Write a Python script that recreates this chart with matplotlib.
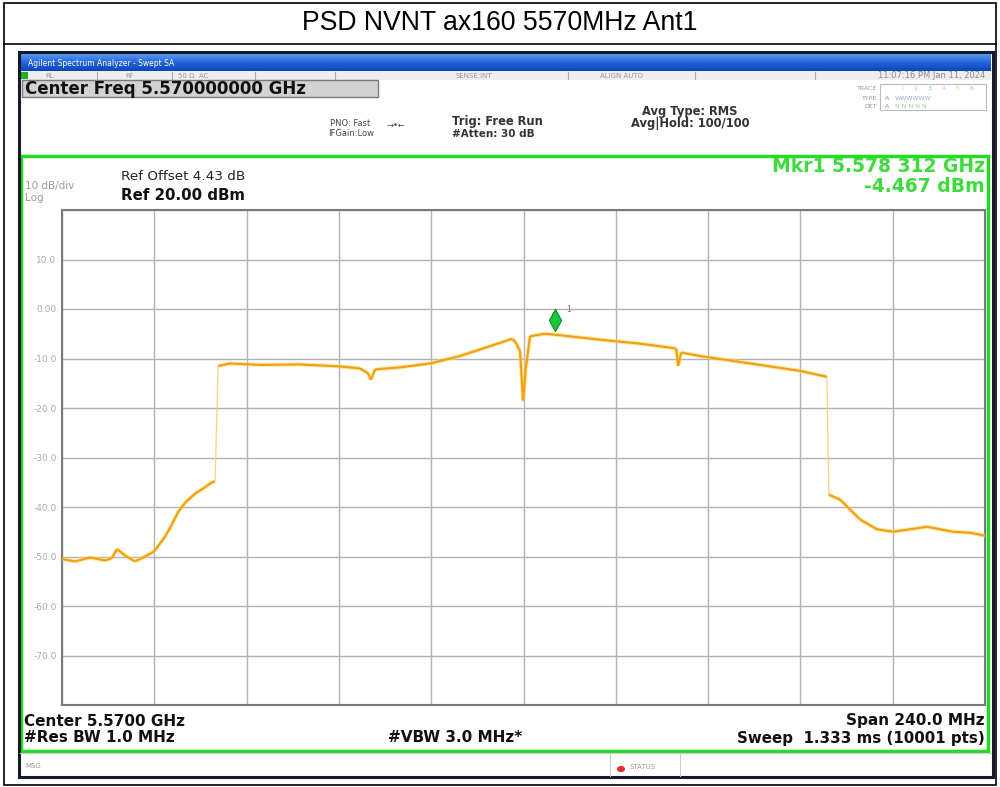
import numpy as np
import matplotlib.pyplot as plt
from matplotlib.patches import Rectangle, Circle
from matplotlib.lines import Line2D
from matplotlib.collections import LineCollection
from matplotlib.colors import LinearSegmentedColormap
from matplotlib.path import Path
import matplotlib.transforms as mtransforms

plt.rcParams['font.family'] = ['DejaVu Sans']

# trace readings, frequency in MHz and level in dBm
freq_mhz = [5450.0, 5453.4, 5457.3, 5461.2, 5463.0, 5464.3, 5466.4, 5469.0,
            5471.6, 5473.9, 5476.8, 5478.6, 5480.2, 5482.2, 5484.6, 5487.2,
            5489.0, 5489.8, 5490.6, 5493.7, 5501.5, 5511.9, 5522.3, 5527.5,
            5529.6, 5530.3, 5531.4, 5537.9, 5545.7, 5553.5, 5561.3, 5565.2,
            5567.0, 5568.0, 5569.1, 5569.9, 5570.6, 5571.7, 5575.6, 5579.5,
            5589.9, 5600.3, 5608.1, 5609.7, 5610.2, 5611.0, 5615.9, 5628.9,
            5641.9, 5648.9, 5649.4, 5652.3, 5654.9, 5657.5, 5661.9, 5666.1,
            5670.5, 5674.9, 5681.7, 5686.1, 5690.0]
level_dbm = [-50.5, -51.0, -50.2, -50.8, -50.3, -48.5, -49.8, -51.0,
             -50.0, -49.0, -46.0, -43.5, -41.0, -39.0, -37.3, -36.0,
             -35.0, -34.8, -11.5, -11.0, -11.3, -11.2, -11.6, -12.0,
             -13.0, -14.3, -12.2, -11.8, -11.0, -9.5, -7.5, -6.5,
             -6.0, -6.8, -8.5, -18.5, -12.0, -5.5, -5.0, -5.3,
             -6.2, -7.0, -7.8, -8.0, -11.5, -8.8, -9.5, -11.0,
             -12.5, -13.7, -37.5, -38.5, -40.5, -42.5, -44.5, -45.0,
             -44.5, -44.0, -45.0, -45.2, -45.8]

center_mhz = 5570.0
span_mhz = 240.0
ref_dbm = 20.0
db_div = 10.0
y_ticklabels = ['', '-70.0', '-60.0', '-50.0', '-40.0', '-30.0', '-20.0',
                '-10.0', '0.00', '10.0', '']
mkr_freq = 5578.312
mkr_level = -4.467

W, H = 1000, 787
fig = plt.figure(figsize=(10, 7.87), dpi=100)


def fx(x):
    return x / W


def fy(y):
    return 1 - y / H


def box(x0, y0, x1, y1, **kw):
    r = Rectangle((fx(x0), fy(y1)), (x1 - x0) / W, (y1 - y0) / H,
                  transform=fig.transFigure, **kw)
    fig.add_artist(r)


def line(xs, ys, **kw):
    fig.add_artist(Line2D([fx(x) for x in xs], [fy(y) for y in ys],
                          transform=fig.transFigure, **kw))


def txt(x, y, s, size, **kw):
    kw.setdefault('va', 'center')
    fig.text(fx(x), fy(y), s, fontsize=size, **kw)


# outer table frame and title row
box(4, 3, 996, 785, fill=False, ec='black', lw=1.2)
line([4, 996], [44, 44], color='black', lw=1.2)
txt(500, 23, 'PSD NVNT ax160 5570MHz Ant1', 19.2, ha='center',
    family=['Liberation Sans'])

# analyzer window title bar
bar = fig.add_axes([fx(20), fy(71), 971 / W, 17 / H])
grad = np.linspace(0, 1, 32).reshape(-1, 1)
bar.imshow(grad, aspect='auto', extent=[0, 1, 0, 1],
           cmap=LinearSegmentedColormap.from_list('tb', ['#5a98f2', '#2264dc', '#0c46b6']))
bar.axis('off')
txt(28, 63, 'Agilent Spectrum Analyzer - Swept SA', 5.5, color='white')

# status row
box(20, 71, 991, 80, fc='#eeeeee', ec='none')
box(21, 72, 28, 79, fc='#20b020', ec='none')
for sx in [97, 172, 255, 335, 568, 695, 815]:
    line([sx, sx], [72, 79], color='#a8a8a8', lw=0.8)
for sx, s in [(45, 'RL'), (125, 'RF'), (178, '50 Ω  AC'), (455, 'SENSE:INT'),
              (600, 'ALIGN AUTO')]:
    txt(sx, 76, s, 5, color='#9a9a9a')
txt(985, 76, '11:07:16 PM Jan 11, 2024', 6, color='#8a8a8a', ha='right')

# center frequency entry
box(22, 80, 378, 97, fc='#d2d2d2', ec='#7a7a7a', lw=1)
txt(25, 89, 'Center Freq 5.570000000 GHz', 12, weight='bold', color='#111111')

txt(330, 124, 'PNO: Fast', 6, color='#444444')
txt(328, 134, 'IFGain:Low', 6, color='#444444')
txt(396, 126, '→•←', 6, color='#444444', ha='center')
txt(452, 121, 'Trig: Free Run', 8.3, weight='bold', color='#333333')
txt(452, 134, '#Atten: 30 dB', 7.5, weight='bold', color='#333333')
txt(690, 112, 'Avg Type: RMS', 8.3, weight='bold', color='#333333', ha='center')
txt(690, 124, 'Avg|Hold: 100/100', 8.3, weight='bold', color='#333333', ha='center')

# trace status block
box(880, 84, 986, 110, fill=False, ec='#bbbbbb', lw=0.8)
txt(877, 89, 'TRACE', 4.5, color='#999999', ha='right')
txt(877, 98, 'TYPE', 4.5, color='#999999', ha='right')
txt(877, 107, 'DET', 4.5, color='#999999', ha='right')
for i, c in enumerate(['#e0e0e0', '#f0a0c0', '#80c0f0', '#b0e0a0', '#f0c080', '#c0a0f0']):
    txt(902 + i * 14, 89, str(i + 1), 4.5, color=c, ha='center')
txt(885, 98, 'A', 4.5, color='#888888')
txt(895, 98, 'WWWWWW', 4.5, color='#9ab0c8')
txt(885, 107, 'A', 4.5, color='#888888')
txt(895, 107, 'N N N N N', 4.5, color='#a0d0a0')

# measurement area frame
box(21, 156, 988, 751, fill=False, ec='#22dd22', lw=2.5)
txt(121, 177, 'Ref Offset 4.43 dB', 9.7, color='#222222')
txt(121, 195, 'Ref 20.00 dBm', 10.8, weight='bold', color='#111111')
txt(25, 186, '10 dB/div', 7.5, color='#9a9a9a')
txt(25, 198, 'Log', 7.5, color='#9a9a9a')
txt(985, 167, 'Mkr1 5.578 312 GHz', 13.5, weight='bold', color='#3ddc3d', ha='right')
txt(985, 187, f'{mkr_level:.3f} dBm', 13.5, weight='bold', color='#3ddc3d', ha='right')

txt(24, 721, f'Center {center_mhz / 1000:.4f} GHz', 11, weight='bold', color='#111111')
txt(24, 738, '#Res BW 1.0 MHz', 11, weight='bold', color='#111111')
txt(455, 738, '#VBW 3.0 MHz*', 11, weight='bold', color='#111111', ha='center')
txt(985, 721, f'Span {span_mhz:.1f} MHz', 11, weight='bold', color='#111111', ha='right')
txt(985, 738, 'Sweep  1.333 ms (10001 pts)', 10.8, weight='bold', color='#111111', ha='right')

# message / status row
line([20, 991], [753, 753], color='#cccccc', lw=0.8)
for sx in [610, 680]:
    line([sx, sx], [754, 776], color='#cccccc', lw=0.8)
txt(25, 766, 'MSG', 5, color='#999999')
fig.add_artist(Circle((fx(621), fy(769)), 4 / W, transform=fig.transFigure,
                      fc='#e03030', ec='none'))
txt(630, 767, 'STATUS', 5, color='#999999')

# analyzer window border
box(19, 52, 993, 777, fill=False, ec='#151a28', lw=2.2)

# graticule
ax = fig.add_axes([fx(62), fy(705), 923 / W, 495 / H])
lo = center_mhz - span_mhz / 2
hi = center_mhz + span_mhz / 2
ax.set_xlim(lo, hi)
ax.set_ylim(ref_dbm - 10 * db_div, ref_dbm)
ax.set_xticks(np.linspace(lo, hi, 11))
ax.set_xticklabels([])
ax.set_yticks(np.arange(ref_dbm - 10 * db_div, ref_dbm + 1, db_div))
ax.set_yticklabels(y_ticklabels)
ax.tick_params(length=0, labelsize=6.5, labelcolor='#aaaaaa', pad=4)
ax.grid(True, color='#b2b2b2', lw=1)
for sp in ax.spines.values():
    sp.set_color('#7a7a7a')
    sp.set_linewidth(1.5)

pts = np.column_stack([freq_mhz, level_dbm])
segs = np.stack([pts[:-1], pts[1:]], axis=1)
steep = np.abs(np.diff(level_dbm)) > 15
glow = LineCollection(segs[~steep], colors='#ffd860', linewidths=3.0, alpha=0.6, zorder=3)
ax.add_collection(glow)
core = LineCollection(segs, colors=np.where(steep, '#f6d27a', '#ee9f14').tolist(),
                      linewidths=np.where(steep, 0.9, 1.5), zorder=4)
ax.add_collection(core)

# marker 1
diamond = Path([(0, -1), (0.55, 0), (0, 1), (-0.55, 0), (0, -1)],
               [Path.MOVETO, Path.LINETO, Path.LINETO, Path.LINETO, Path.CLOSEPOLY])
up = mtransforms.offset_copy(ax.transData, fig=fig, y=11, units='dots')
ax.plot(mkr_freq, mkr_level, marker=diamond, ms=16, color='#18c83a',
        mec='#0c8a22', mew=0.8, transform=up, zorder=5)
lab = mtransforms.offset_copy(ax.transData, fig=fig, x=11, y=22, units='dots')
ax.text(mkr_freq, mkr_level, '1', fontsize=5.5, color='#777777', transform=lab,
        va='center', zorder=5)

fig.savefig('out.png', dpi=100)
